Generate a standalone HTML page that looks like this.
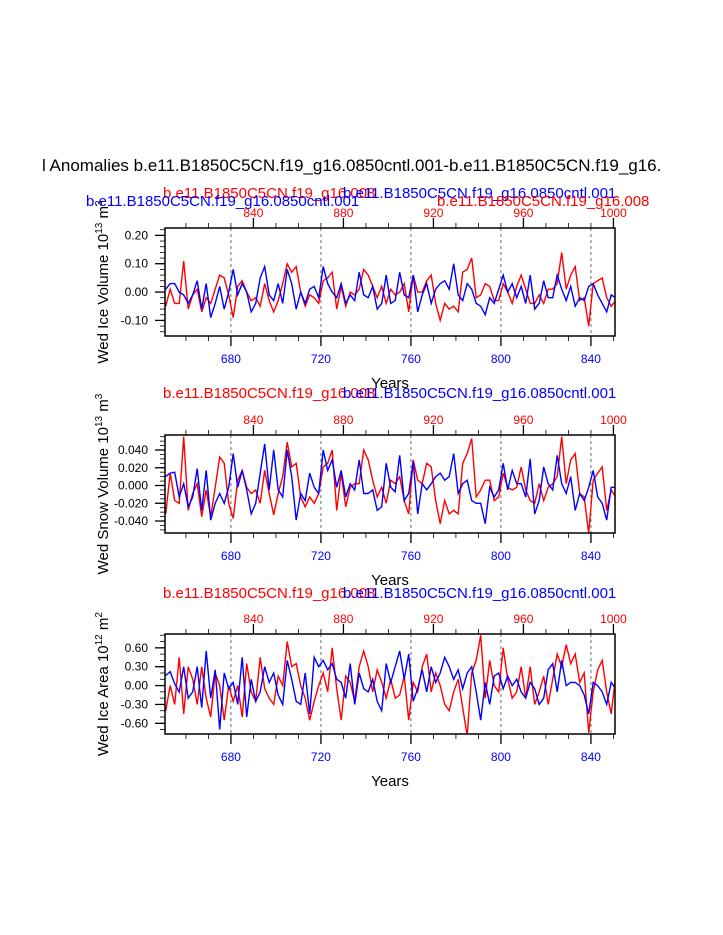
<!DOCTYPE html>
<html><head><meta charset="utf-8"><style>
body{margin:0;background:#fff;}
svg{display:block;font-family:"Liberation Sans",Arial,sans-serif;}
</style></head><body>
<svg id="chart" width="723" height="935" viewBox="0 0 723 935">
<text x="42" y="171" font-size="17">l Anomalies b.e11.B1850C5CN.f19_g16.0850cntl.001-b.e11.B1850C5CN.f19_g16.</text>
<text x="163" y="198" font-size="15" fill="#f00">b.e11.B1850C5CN.f19_g16.008</text>
<text x="343" y="198" font-size="15" fill="#00f">b.e11.B1850C5CN.f19_g16.0850cntl.001</text>
<text x="86" y="206" font-size="15" fill="#00f">b.e11.B1850C5CN.f19_g16.0850cntl.001</text>
<text x="437" y="206" font-size="15" fill="#f00">b.e11.B1850C5CN.f19_g16.008</text>
<text x="163" y="398" font-size="15" fill="#f00">b.e11.B1850C5CN.f19_g16.008</text>
<text x="343" y="398" font-size="15" fill="#00f">b.e11.B1850C5CN.f19_g16.0850cntl.001</text>
<text x="163" y="598" font-size="15" fill="#f00">b.e11.B1850C5CN.f19_g16.008</text>
<text x="343" y="598" font-size="15" fill="#00f">b.e11.B1850C5CN.f19_g16.0850cntl.001</text>
</svg>
<script>
// x axis data
const blueStartYear = 651;
const redStartYear = 801;
const yearStep = 2;
const bottomTicks = [680, 720, 760, 800, 840];
const topTicks = [840, 880, 920, 960, 1000];

// Panel 1: ice volume
const p1Blue = [0.01,0.03,0.03,0,-0.01,-0.04,-0.01,0.04,-0.06,0.03,-0.09,-0.04,0.02,-0.06,0,0.08,-0.01,0.03,0,-0.07,-0.04,0.05,0.09,-0.01,-0.03,0.03,-0.04,0.08,0.03,-0.06,0,-0.04,0.01,0.02,-0.02,0.09,0.03,0,-0.02,0.03,-0.04,-0.01,-0.03,0.07,-0.01,-0.02,0.02,-0.06,-0.04,0.06,-0.04,
-0.03,0.07,-0.01,-0.02,0.06,-0.07,-0.01,0.03,-0.04,0.01,0.03,0.04,0.01,0.10,-0.01,-0.03,0.03,0.01,-0.04,-0.05,-0.08,-0.02,-0.04,0.01,0.06,0,0.03,-0.02,0.02,-0.04,0.06,-0.06,-0.04,0.04,-0.02,-0.02,0.06,0.01,-0.03,0.02,-0.05,-0.02,-0.03,0.02,0.03,-0.01,-0.04,-0.07,-0.01,-0.02];
const p1Red = [-0.05,0.01,-0.04,-0.04,0.11,-0.06,-0.01,0.01,-0.07,-0.02,-0.04,0.01,0.06,0.05,-0.01,-0.09,0.02,0.04,0,-0.03,-0.02,-0.05,0.03,-0.03,-0.07,-0.03,0.03,0.10,0.07,0.09,0,-0.05,-0.01,-0.02,-0.04,0.04,0.05,0.07,-0.06,0.02,-0.05,0,-0.01,0.01,0.08,0.06,0.02,-0.02,0.02,-0.04,0.01,
-0.01,0,0.03,-0.07,0.06,0,0,0.04,0.06,-0.04,-0.10,-0.04,-0.06,-0.05,-0.07,0.07,0.08,0.12,-0.02,-0.01,0.03,0.02,-0.03,-0.03,0.03,0,-0.04,0.02,0.06,0.01,-0.04,-0.04,-0.01,-0.04,0.01,0.01,0.03,0.14,0.01,0.06,0.09,-0.03,-0.02,-0.12,0.03,0.04,0.05,-0.02,-0.05,-0.03];
const p1YTicks = [0.20, 0.10, 0.00, -0.10];
const p1YLabels = ["0.20","0.10","0.00","-0.10"];

// Panel 2: snow volume
const p2Blue = [0.01,0.014,0.015,-0.013,0.002,-0.024,-0.013,0.019,-0.028,0.017,-0.039,-0.02,-0.009,-0.02,-0.002,0.036,-0.002,0.017,-0.005,-0.032,-0.02,0.014,0.047,-0.005,0.04,-0.005,-0.013,0.04,0.01,-0.039,-0.009,-0.017,0.014,-0.002,-0.009,0.04,0.017,0.029,-0.002,0.017,-0.013,0.002,-0.005,0.029,-0.009,-0.009,-0.005,-0.028,-0.024,0.025,-0.002,
-0.007,0.034,-0.017,-0.009,0.027,-0.032,0.002,-0.005,0.002,0.01,0.014,0.006,0.01,0.036,-0.009,0.002,0.006,-0.017,-0.02,-0.02,-0.043,-0.002,-0.013,-0.005,0.025,-0.005,0.017,0.002,0.002,-0.013,0.03,-0.032,-0.017,0.021,0.002,-0.005,0.034,0.002,-0.009,0.01,-0.028,-0.009,-0.017,-0.002,0.017,-0.013,-0.02,-0.039,-0.002,-0.002];
const p2Red = [-0.032,0.014,-0.017,-0.02,0.055,-0.028,-0.009,0.002,-0.035,-0.005,-0.035,-0.002,0.032,0.025,-0.02,-0.037,0.006,0.017,-0.002,-0.009,-0.005,-0.02,0.017,-0.009,-0.033,-0.009,0.01,0.049,0.021,0.025,-0.013,-0.024,-0.013,-0.02,-0.009,0.021,0.025,0.04,-0.028,0.014,-0.024,-0.002,0.002,0.002,0.04,0.029,0.006,-0.013,-0.002,-0.02,0.006,
0.002,0.01,-0.017,-0.032,0.029,0.006,0.002,0.025,0.021,-0.017,-0.043,-0.017,-0.032,-0.028,-0.032,0.025,0.036,0.053,-0.013,-0.005,0.006,0.006,-0.017,-0.013,0.014,-0.002,-0.005,-0.002,0.021,-0.005,-0.017,-0.02,0.002,-0.017,-0.002,0.002,0.01,0.055,0.002,0.029,0.036,-0.009,-0.013,-0.054,0.006,0.014,0.021,-0.028,-0.005,-0.013];
const p2YTicks = [0.04, 0.02, 0.0, -0.02, -0.04];
const p2YLabels = ["0.040","0.020","0.000","-0.020","-0.040"];

// Panel 3: ice area
const p3Blue = [0.16,0.22,0.03,-0.1,0.3,-0.2,-0.1,0.3,-0.35,0.55,-0.2,0.25,-0.7,0.2,-0.05,0.05,-0.3,0.45,-0.5,0.1,-0.25,-0.1,0.3,0.05,0.2,-0.15,-0.3,0.4,0.1,-0.25,-0.3,0.2,-0.45,0.45,0.3,0.4,0.25,0.35,0.1,0.05,-0.2,0.35,-0.3,0.2,-0.05,-0.1,0.1,-0.25,-0.4,0.35,0.05,
0.3,0.55,0.1,0.5,-0.25,-0.05,0.25,-0.1,0.3,0.05,0.2,0.45,0.3,0.1,0.25,-0.05,0.2,0.3,-0.1,-0.55,0.05,-0.3,0.15,0.2,-0.05,0.15,0.0,0.1,-0.1,-0.2,0.05,-0.05,-0.3,-0.2,0.25,0.35,-0.1,0.4,0.0,0.05,0.05,0.0,-0.15,-0.45,0.05,0.0,-0.1,-0.3,0.05,-0.05];
const p3Red = [-0.4,0.0,-0.3,0.45,-0.45,0.3,0.1,-0.3,0.3,-0.2,-0.5,0.2,0.0,-0.55,0.0,-0.25,0.0,-0.5,0.35,-0.1,-0.25,0.45,-0.05,-0.2,-0.3,0.15,0.0,0.7,0.3,0.35,0.0,-0.2,-0.55,-0.25,0.0,0.2,-0.1,0.6,-0.05,-0.55,0.15,0.05,-0.25,0.3,0.55,0.3,-0.1,0.25,0.05,-0.2,0.1,
-0.2,-0.15,0.15,-0.55,0.05,-0.1,0.3,0.5,-0.1,0.2,0.0,-0.3,-0.4,-0.1,0.1,-0.35,-0.8,0.2,0.4,0.8,-0.2,0.4,0.0,-0.1,0.6,0.1,-0.2,-0.1,0.3,-0.2,0.3,-0.3,-0.1,0.15,-0.3,0.1,0.5,0.3,0.65,0.35,0.5,0.05,0.2,-0.75,-0.1,0.25,0.4,-0.1,-0.45,0.15];
const p3YTicks = [0.6, 0.3, 0.0, -0.3, -0.6];
const p3YLabels = ["0.60","0.30","0.00","-0.30","-0.60"];

const NS = "http://www.w3.org/2000/svg";
const svg = document.getElementById('chart');
function mk(tag, attrs, parent){
  const e = document.createElementNS(NS, tag);
  for (const k in attrs) e.setAttribute(k, attrs[k]);
  (parent||svg).appendChild(e);
  return e;
}
const X0 = 165, X1 = 615, YMIN_YEAR = 650.7, YMAX_YEAR = 850.7;
function xBottom(yr){ return X0 + (yr - YMIN_YEAR) * (X1 - X0) / (YMAX_YEAR - YMIN_YEAR); }
function xTop(yr){ return xBottom(yr - (redStartYear - blueStartYear)); }

function panel(id, top, bottom, vmin, vmax, blue, red, yTicks, yLabels, titleMain, titleExp, titleUnit, titleUnitExp, minorStep){
  const g = mk('g', {});
  
  
  const y = v => bottom - (v - vmin) * (bottom - top) / (vmax - vmin);
  const clipId = id + '-clip';
  const cp = mk('clipPath', {id: clipId}, g);
  mk('rect', {x: X0, y: top, width: X1 - X0, height: bottom - top}, cp);
  bottomTicks.forEach(t => {
    const l = mk('line', {x1: xBottom(t), x2: xBottom(t), y1: top, y2: bottom, stroke: '#444', 'stroke-width': 0.8, 'stroke-dasharray': '3,3'}, g);
    
    
  });
  const series = [[red, redStartYear, xTop, '#f00', 'red-series'], [blue, blueStartYear, xBottom, '#00f', 'blue-series']];
  series.forEach(([arr, start, xf, col, nm]) => {
    const pts = arr.map((v, i) => xf(start + i * yearStep).toFixed(1) + ',' + y(v).toFixed(1)).join(' ');
    const pl = mk('polyline', {points: pts, fill: 'none', stroke: col, 'stroke-width': 1.4, 'clip-path': 'url(#' + clipId + ')'}, g);
    
    
  });
  const box = mk('rect', {x: X0, y: top, width: X1 - X0, height: bottom - top, fill: 'none', stroke: '#000', 'stroke-width': 1.5}, g);
  
  
  for (let yr = 660; yr <= 850; yr += 10) {
    const major = bottomTicks.includes(yr);
    mk('line', {x1: xBottom(yr), x2: xBottom(yr), y1: bottom, y2: bottom + (major ? 10 : 5), stroke: '#000', 'stroke-width': major ? 1.3 : 0.8}, g);
  }
  bottomTicks.forEach(t => {
    const tx = mk('text', {x: xBottom(t), y: bottom + 27, 'font-size': 12, fill: '#00f', 'text-anchor': 'middle'}, g);
    tx.textContent = t;
    
    
  });
  for (let yr = 810; yr <= 1000; yr += 10) {
    const major = topTicks.includes(yr);
    mk('line', {x1: xTop(yr), x2: xTop(yr), y1: top, y2: top - (major ? 10 : 5), stroke: '#000', 'stroke-width': major ? 1.3 : 0.8}, g);
  }
  topTicks.forEach(t => {
    const tx = mk('text', {x: xTop(t), y: top - 11, 'font-size': 12, fill: '#f00', 'text-anchor': 'middle'}, g);
    tx.textContent = t;
    
    
  });
  const step = yTicks[0] - yTicks[1];
  for (let v = yTicks[yTicks.length-1] - step; v <= yTicks[0] + step + 1e-9; v += minorStep) {
    if (v < vmin - 1e-9 || v > vmax + 1e-9) continue;
    mk('line', {x1: X0, x2: X0 - 5, y1: y(v), y2: y(v), stroke: '#000', 'stroke-width': 0.8}, g);
  }
  yTicks.forEach((t, i) => {
    mk('line', {x1: X0, x2: X0 - 10, y1: y(t), y2: y(t), stroke: '#000', 'stroke-width': 1.3}, g);
    const tx = mk('text', {x: X0 - 17, y: y(t) + 4, 'font-size': 12, 'text-anchor': 'end'}, g);
    tx.textContent = yLabels[i];
    
    
  });
  const cy = (top + bottom) / 2;
  const yt = mk('text', {x: 0, y: 0, 'font-size': 15, 'text-anchor': 'middle', transform: 'translate(108,' + cy + ') rotate(-90)'}, g);
  
  
  const parts = [[titleMain, 0, 15], [titleExp, -6, 10], [titleUnit, 6, 15], [titleUnitExp, -6, 10]];
  parts.forEach(([s, dy, fs]) => { const ts = mk('tspan', {dy: dy, 'font-size': fs}, yt); ts.textContent = s; });
  const xt = mk('text', {x: 390, y: bottom + 52, 'font-size': 15, 'text-anchor': 'middle'}, g);
  xt.textContent = 'Years';
  
  
}

panel('ice-volume-panel', 228, 336, -0.155, 0.226, p1Blue, p1Red, p1YTicks, p1YLabels, 'Wed Ice Volume 10', '13', ' m', '3', 0.02);
panel('snow-volume-panel', 435, 533, -0.0535, 0.0569, p2Blue, p2Red, p2YTicks, p2YLabels, 'Wed Snow Volume 10', '13', ' m', '3', 0.005);
panel('ice-area-panel', 634, 734, -0.77, 0.82, p3Blue, p3Red, p3YTicks, p3YLabels, 'Wed Ice Area 10', '12', ' m', '2', 0.1);
</script>
</body></html>
